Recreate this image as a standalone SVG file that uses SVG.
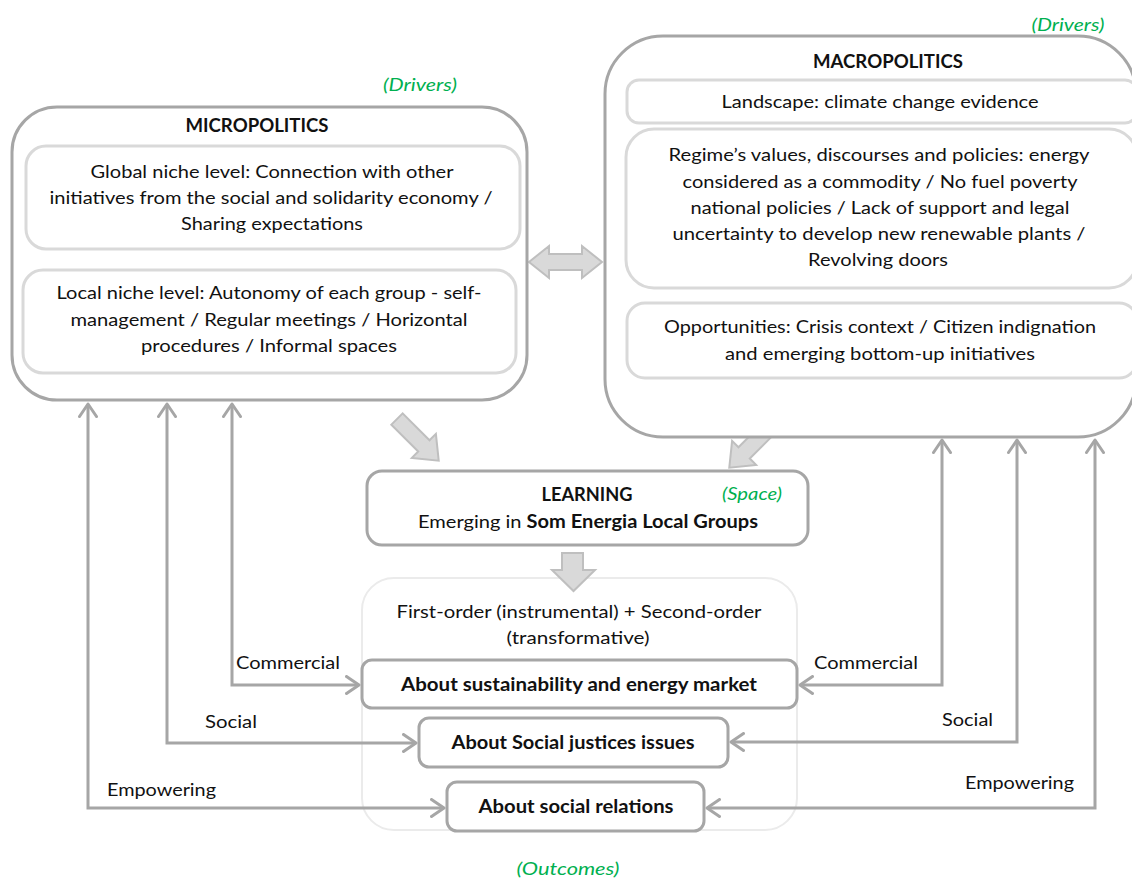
<svg xmlns="http://www.w3.org/2000/svg" width="1132" height="879" viewBox="0 0 1132 879">
  <style>
    text { font-family: Lato, "Liberation Sans", sans-serif; font-size: 18px; fill: #111111; text-anchor: middle; }
    .b { font-weight: bold; }
    .tag { font-style: italic; fill: #00b050; }
    .lbl { text-anchor: start; }
    .outer { fill: #ffffff; stroke: #a6a6a6; stroke-width: 3; }
    .inner { fill: #ffffff; stroke: #d9d9d9; stroke-width: 3; }
    .frame { fill: none; stroke: #ebebeb; stroke-width: 2; }
    .box { fill: #ffffff; stroke: #a6a6a6; stroke-width: 3; }
    .link { fill: none; stroke: #a6a6a6; stroke-width: 3; marker-start: url(#chev-start); marker-end: url(#chev); }
    .block { fill: #d9d9d9; stroke: #bfbfbf; stroke-width: 2; stroke-linejoin: miter; }
  </style>
  <defs>
    <marker id="chev" viewBox="0 0 16 20" refX="14" refY="10" markerWidth="16" markerHeight="20" markerUnits="userSpaceOnUse" orient="auto">
      <path d="M1.5,1.5 L14,10 L1.5,18.5" fill="none" stroke="#a6a6a6" stroke-width="3" stroke-linecap="round" stroke-linejoin="round"/>
    </marker>
    <marker id="chev-start" viewBox="0 0 16 20" refX="14" refY="10" markerWidth="16" markerHeight="20" markerUnits="userSpaceOnUse" orient="auto-start-reverse">
      <path d="M1.5,1.5 L14,10 L1.5,18.5" fill="none" stroke="#a6a6a6" stroke-width="3" stroke-linecap="round" stroke-linejoin="round"/>
    </marker>
    <path id="fat-arrow" d="M0,-8 L38,-8 L38,-17 L59,0 L38,17 L38,8 L0,8 Z"/>
  </defs>

  <rect width="1132" height="879" fill="#ffffff"/>

  <!-- outcomes frame (drawn first so arrows sit on top of it) -->
  <g id="outcomes">
    <rect class="frame" x="362" y="578" width="435" height="252" rx="32"/>
    <text x="579" y="618" textLength="365" lengthAdjust="spacingAndGlyphs">First-order (instrumental) + Second-order</text>
    <text x="578" y="644" textLength="143" lengthAdjust="spacingAndGlyphs">(transformative)</text>
    <text class="tag" x="568" y="875" textLength="103" lengthAdjust="spacingAndGlyphs">(Outcomes)</text>
  </g>

  <!-- connectors -->
  <g id="connectors">
    <use href="#fat-arrow" class="block" transform="translate(397,419) rotate(45)"/>
    <use href="#fat-arrow" class="block" transform="translate(771,426) rotate(135)"/>
    <path class="block" d="M562,553 H583 V570 H595 L573.5,591 L552,570 H562 Z"/>
    <path class="block" d="M529,262 L549,246 V254 H582 V246 L602,262 L582,278 V270 H549 V278 Z"/>

    <path class="link" d="M232,404 V685 H359"/>
    <path class="link" d="M167,404 V743 H416"/>
    <path class="link" d="M88,404 V808 H444"/>
    <path class="link" d="M942,440 V685 H800"/>
    <path class="link" d="M1017,440 V742 H731"/>
    <path class="link" d="M1095,440 V808 H707"/>

    <text class="lbl" x="236" y="669" textLength="104" lengthAdjust="spacingAndGlyphs">Commercial</text>
    <text class="lbl" x="205" y="728" textLength="52" lengthAdjust="spacingAndGlyphs">Social</text>
    <text class="lbl" x="107" y="796" textLength="109" lengthAdjust="spacingAndGlyphs">Empowering</text>
    <text class="lbl" x="814" y="669" textLength="104" lengthAdjust="spacingAndGlyphs">Commercial</text>
    <text class="lbl" x="942" y="726" textLength="51" lengthAdjust="spacingAndGlyphs">Social</text>
    <text class="lbl" x="965" y="789" textLength="109" lengthAdjust="spacingAndGlyphs">Empowering</text>
  </g>

  <!-- micropolitics -->
  <g id="micropolitics">
    <text class="tag" x="420" y="91" textLength="74" lengthAdjust="spacingAndGlyphs">(Drivers)</text>
    <rect class="outer" x="12" y="107" width="515" height="293" rx="45"/>
    <text class="b" x="257" y="132" textLength="143" lengthAdjust="spacingAndGlyphs">MICROPOLITICS</text>
    <rect class="inner" x="26" y="146" width="494" height="103" rx="20"/>
    <text x="272" y="178" textLength="363" lengthAdjust="spacingAndGlyphs">Global niche level: Connection with other</text>
    <text x="271" y="204" textLength="443" lengthAdjust="spacingAndGlyphs">initiatives from the social and solidarity economy /</text>
    <text x="272" y="230" textLength="182" lengthAdjust="spacingAndGlyphs">Sharing expectations</text>
    <rect class="inner" x="23" y="270" width="493" height="103" rx="20"/>
    <text x="269" y="299" textLength="425" lengthAdjust="spacingAndGlyphs">Local niche level: Autonomy of each group - self-</text>
    <text x="269" y="326" textLength="397" lengthAdjust="spacingAndGlyphs">management / Regular meetings / Horizontal</text>
    <text x="269" y="352" textLength="256" lengthAdjust="spacingAndGlyphs">procedures / Informal spaces</text>
  </g>

  <!-- macropolitics -->
  <g id="macropolitics">
    <text class="tag" x="1068" y="31" textLength="73" lengthAdjust="spacingAndGlyphs">(Drivers)</text>
    <rect class="outer" x="605" y="36" width="531" height="401" rx="58"/>
    <text class="b" x="888" y="68" textLength="150" lengthAdjust="spacingAndGlyphs">MACROPOLITICS</text>
    <rect class="inner" x="627" y="80" width="510" height="43" rx="12"/>
    <text x="880" y="108" textLength="317" lengthAdjust="spacingAndGlyphs">Landscape: climate change evidence</text>
    <rect class="inner" x="626" y="129" width="511" height="159" rx="28"/>
    <text x="879" y="161" textLength="421" lengthAdjust="spacingAndGlyphs">Regime’s values, discourses and policies: energy</text>
    <text x="880" y="188" textLength="395" lengthAdjust="spacingAndGlyphs">considered as a commodity / No fuel poverty</text>
    <text x="880" y="214" textLength="379" lengthAdjust="spacingAndGlyphs">national policies / Lack of support and legal</text>
    <text x="879" y="240" textLength="413" lengthAdjust="spacingAndGlyphs">uncertainty to develop new renewable plants /</text>
    <text x="878" y="266" textLength="140" lengthAdjust="spacingAndGlyphs">Revolving doors</text>
    <rect class="inner" x="627" y="303" width="510" height="75" rx="18"/>
    <text x="880" y="333" textLength="432" lengthAdjust="spacingAndGlyphs">Opportunities: Crisis context / Citizen indignation</text>
    <text x="880" y="360" textLength="310" lengthAdjust="spacingAndGlyphs">and emerging bottom-up initiatives</text>
  </g>

  <!-- learning -->
  <g id="learning">
    <rect class="box" x="367" y="471" width="441" height="74" rx="15"/>
    <text class="b" x="587" y="501" textLength="91" lengthAdjust="spacingAndGlyphs">LEARNING</text>
    <text class="tag" x="752" y="500" textLength="60" lengthAdjust="spacingAndGlyphs">(Space)</text>
    <text x="588" y="528" textLength="340" lengthAdjust="spacingAndGlyphs">Emerging in <tspan class="b">Som Energia Local Groups</tspan></text>
  </g>

  <!-- outcome boxes -->
  <g id="about-sustainability">
    <rect class="box" x="362" y="660" width="435" height="48" rx="10"/>
    <text class="b" x="579" y="691" textLength="356" lengthAdjust="spacingAndGlyphs">About sustainability and energy market</text>
  </g>
  <g id="about-social-justice">
    <rect class="box" x="419" y="718" width="309" height="49" rx="10"/>
    <text class="b" x="573" y="749" textLength="243" lengthAdjust="spacingAndGlyphs">About Social justices issues</text>
  </g>
  <g id="about-social-relations">
    <rect class="box" x="447" y="782" width="257" height="49" rx="10"/>
    <text class="b" x="576" y="813" textLength="195" lengthAdjust="spacingAndGlyphs">About social relations</text>
  </g>
</svg>
